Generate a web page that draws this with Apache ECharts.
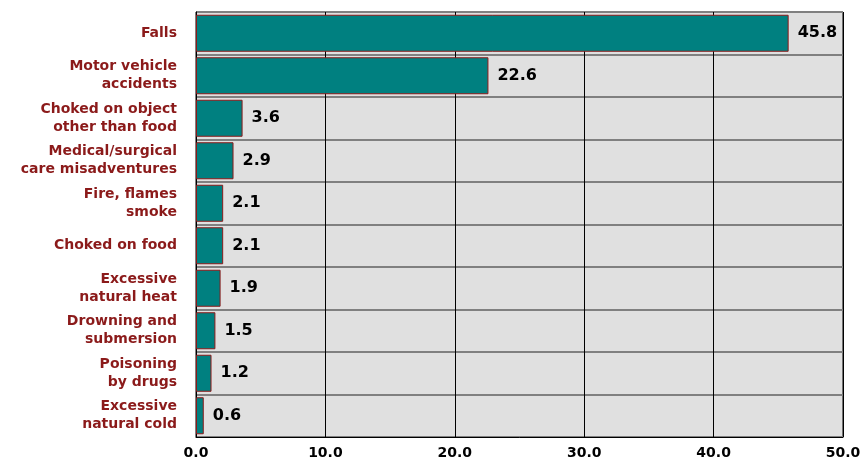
<!DOCTYPE html>
<html><head><meta charset="utf-8">
<script src="https://cdn.jsdelivr.net/npm/echarts@6/dist/echarts.min.js"></script>
<style>html,body{margin:0;padding:0;background:#fff}#c{width:867px;height:462px}</style>
</head><body><div id="c"></div>
<script>
const categories = ["Falls","Motor vehicle\naccidents","Choked on object\nother than food","Medical/surgical\ncare misadventures","Fire, flames\nsmoke","Choked on food","Excessive\nnatural heat","Drowning and\nsubmersion","Poisoning\nby drugs","Excessive\nnatural cold"];
const values = [45.8,22.6,3.6,2.9,2.1,2.1,1.9,1.5,1.2,0.6];
const xTicks = [0,10,20,30,40,50];

const chart = echarts.init(document.getElementById('c'));
chart.setOption({
  animation:false,
  grid:{left:196,right:24,top:12,bottom:25,show:true,backgroundColor:'#e0e0e0',borderColor:'#000',borderWidth:1},
  xAxis:{type:'value',min:xTicks[0],max:xTicks[xTicks.length-1],interval:10,
    axisLine:{show:true,lineStyle:{color:'#000'}},axisTick:{show:false},
    splitLine:{show:true,lineStyle:{color:'#000',width:1}},
    axisLabel:{formatter:v=>v.toFixed(1),color:'#000',fontFamily:'DejaVu Sans',fontWeight:'bold',fontSize:14,margin:9}},
  yAxis:{type:'category',data:categories,inverse:true,
    axisLine:{show:true,lineStyle:{color:'#000'}},axisTick:{show:false},
    splitLine:{show:true,lineStyle:{color:'#808080',width:2}},
    axisLabel:{color:'#8b1a1a',fontFamily:'DejaVu Sans',fontWeight:'bold',fontSize:14,lineHeight:18,margin:19,align:'right'}},
  series:[{type:'bar',data:values,barWidth:37,
    itemStyle:{color:'#008080',borderColor:'#8b1a1a',borderWidth:1},
    label:{show:true,position:'right',distance:9,color:'#000',fontFamily:'DejaVu Sans',fontWeight:'bold',fontSize:16,formatter:p=>p.value.toFixed(1)}}]
});
</script></body></html>
